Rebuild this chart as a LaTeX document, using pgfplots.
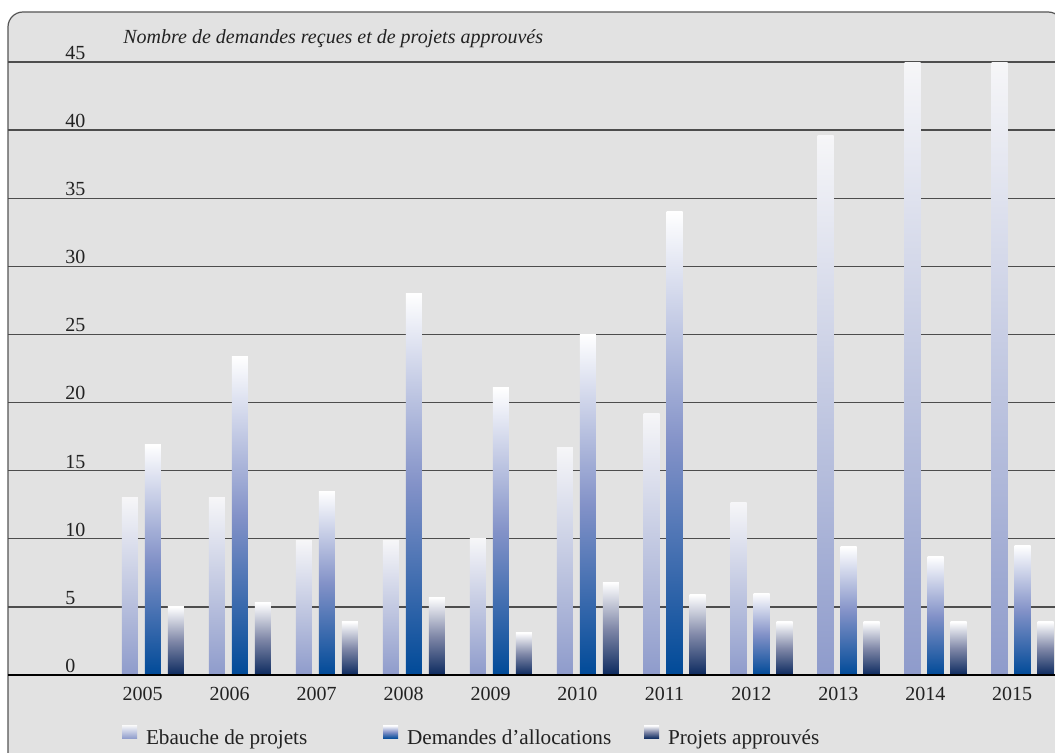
\documentclass[border=0pt]{standalone}
\usepackage{fontspec}
\setmainfont{Liberation Serif}
\usepackage{pgfplots}
\pgfplotsset{compat=1.18}

\definecolor{bggray}{HTML}{E2E2E2}
\definecolor{framegray}{HTML}{555555}
\definecolor{gridgray}{HTML}{4D4D4D}
\definecolor{txt}{HTML}{222222}
\definecolor{sAtop}{HTML}{F6F6F8}
\definecolor{sAbot}{HTML}{8E9BCB}
\definecolor{sBtop}{HTML}{FFFFFF}
\definecolor{sBmid}{HTML}{8392C8}
\definecolor{sBbot}{HTML}{004A98}
\definecolor{sCtop}{HTML}{FFFFFF}
\definecolor{sCmid}{HTML}{8088A8}
\definecolor{sCbot}{HTML}{0C2A5F}

\pgfdeclareverticalshading{shA}{100bp}{color(0bp)=(sAbot); color(25bp)=(sAbot); color(75bp)=(sAtop); color(100bp)=(sAtop)}
\pgfdeclareverticalshading{shB}{100bp}{color(0bp)=(sBbot); color(25bp)=(sBbot); color(50bp)=(sBmid); color(75bp)=(sBtop); color(100bp)=(sBtop)}
\pgfdeclareverticalshading{shC}{100bp}{color(0bp)=(sCbot); color(25bp)=(sCbot); color(50bp)=(sCmid); color(75bp)=(sCtop); color(100bp)=(sCtop)}

\pgfplotsset{
  sA/.style={ybar, bar width=8pt, bar shift=-11.5pt, draw=none, shade, shading=shA},
  sB/.style={ybar, bar width=8pt, bar shift=0pt, draw=none, shade, shading=shB},
  sC/.style={ybar, bar width=8pt, bar shift=11.5pt, draw=none, shade, shading=shC},
}

\begin{document}
\begin{tikzpicture}[x=0.5pt,y=0.5pt]
\useasboundingbox (0,0) rectangle (1055,752);
\clip (0,0) rectangle (1055,752);
\draw[fill=bggray, draw=framegray, line width=0.6pt, rounded corners=7.5pt]
  (8,-30) -- (8,740) -- (1063,740) -- (1063,-30) -- cycle;
\node[anchor=base west, inner sep=0pt, text=txt, font=\fontsize{10}{12}\selectfont\itshape]
  at (123,709) {Nombre de demandes reçues et de projets approuvés};
\begin{axis}[
  at={(4pt,38.5pt)}, anchor=south west,
  scale only axis, width=526pt, height=306.5pt,
  xmin=-1.6676, xmax=10.4313, ymin=0, ymax=45,
  axis line style={draw=none},
  ymajorgrids, grid style={draw=gridgray, line width=0.7pt},
  ytick={0,5,10,15,20,25,30,35,40,45},
  xtick={0,1,2,3,4,5,6,7,8,9,10},
  xticklabels={2005,2006,2007,2008,2009,2010,2011,2012,2013,2014,2015},
  major tick length=0pt, tick style={draw=none},
  /pgf/number format/assume math mode=true,
  ticklabel style={font=\fontsize{10}{12}\selectfont, text=txt, inner sep=0pt},
  xticklabel style={anchor=north, xshift=-5.15pt, yshift=-6pt},
  yticklabel style={anchor=south west, xshift=28.5pt, yshift=1pt},
  every axis plot post/.append style={
    legend image code/.code={\path[##1, draw=none] (0pt,0pt) rectangle (7.5pt,6.5pt);}},
  legend style={at={(axis description cs:0.1084,-0.1181)}, anchor=south west,
    draw=none, fill=none, legend columns=3, inner sep=0pt, outer sep=0pt,
    nodes={inner sep=0pt, font=\fontsize{10.6}{12}\selectfont, text=txt},
    /tikz/column sep=0pt,
    /tikz/every odd column/.append style={column sep=4.5pt}},
]
% one bar per plot so that each bar gets its own gradient
\addplot[sA] coordinates {(0,13.0)};
\addlegendentry{\makebox[118.5pt][l]{Ebauche de projets}}
\addplot[sB] coordinates {(0,16.9)};
\addlegendentry{\makebox[118.5pt][l]{Demandes d’allocations}}
\addplot[sC] coordinates {(0,5.0)};
\addlegendentry{\makebox[118.5pt][l]{Projets approuvés}}

\addplot[sA, forget plot] coordinates {(1,13.0)};
\addplot[sA, forget plot] coordinates {(2,9.85)};
\addplot[sA, forget plot] coordinates {(3,9.85)};
\addplot[sA, forget plot] coordinates {(4,10.0)};
\addplot[sA, forget plot] coordinates {(5,16.7)};
\addplot[sA, forget plot] coordinates {(6,19.2)};
\addplot[sA, forget plot] coordinates {(7,12.7)};
\addplot[sA, forget plot] coordinates {(8,39.6)};
\addplot[sA, forget plot] coordinates {(9,45)};
\addplot[sA, forget plot] coordinates {(10,45)};

\addplot[sB, forget plot] coordinates {(1,23.4)};
\addplot[sB, forget plot] coordinates {(2,13.5)};
\addplot[sB, forget plot] coordinates {(3,28.0)};
\addplot[sB, forget plot] coordinates {(4,21.1)};
\addplot[sB, forget plot] coordinates {(5,25.0)};
\addplot[sB, forget plot] coordinates {(6,34.0)};
\addplot[sB, forget plot] coordinates {(7,6.0)};
\addplot[sB, forget plot] coordinates {(8,9.4)};
\addplot[sB, forget plot] coordinates {(9,8.7)};
\addplot[sB, forget plot] coordinates {(10,9.5)};

\addplot[sC, forget plot] coordinates {(1,5.3)};
\addplot[sC, forget plot] coordinates {(2,3.9)};
\addplot[sC, forget plot] coordinates {(3,5.7)};
\addplot[sC, forget plot] coordinates {(4,3.1)};
\addplot[sC, forget plot] coordinates {(5,6.8)};
\addplot[sC, forget plot] coordinates {(6,5.9)};
\addplot[sC, forget plot] coordinates {(7,3.9)};
\addplot[sC, forget plot] coordinates {(8,3.9)};
\addplot[sC, forget plot] coordinates {(9,3.9)};
\addplot[sC, forget plot] coordinates {(10,3.9)};

\draw[black, line width=0.7pt] (rel axis cs:0,0) -- (rel axis cs:1,0);
\end{axis}
\end{tikzpicture}
\end{document}
